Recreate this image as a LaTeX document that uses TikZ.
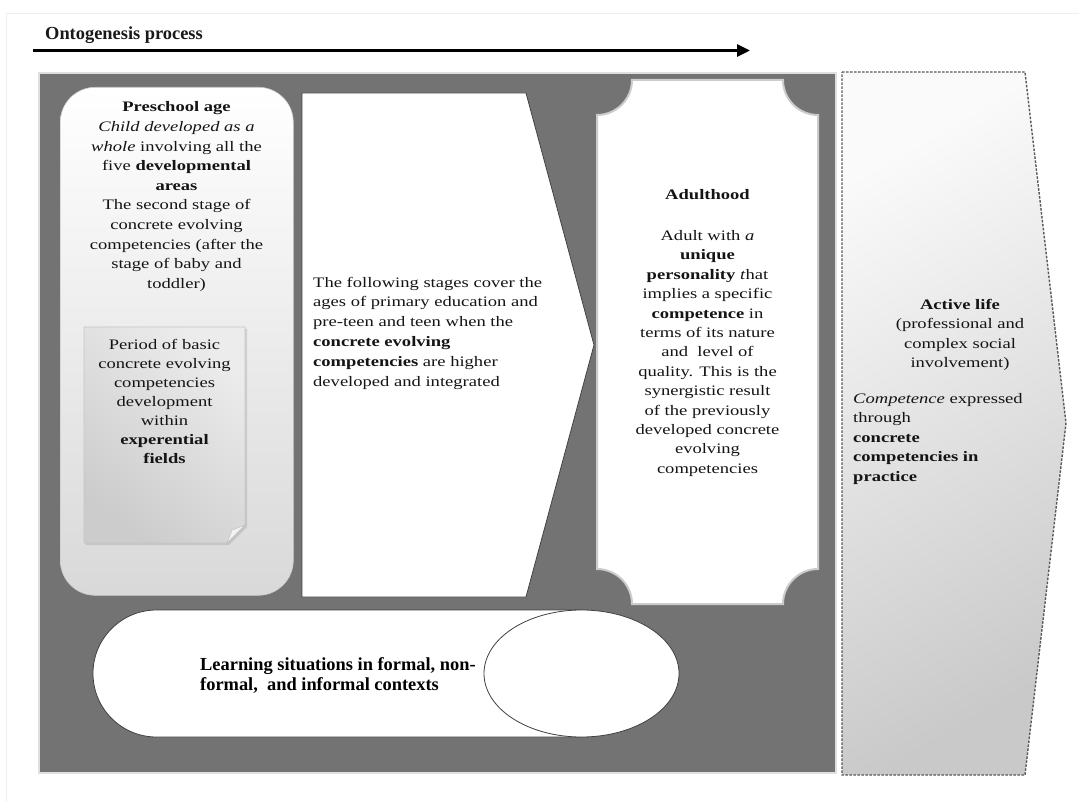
\documentclass[tikz,border=0pt]{standalone}
\usepackage{fontspec}
\setmainfont{Liberation Serif}
\newfontfamily\bodyfont[FakeStretch=1.28]{Liberation Serif}
\usetikzlibrary{arrows.meta,shapes.geometric,shadows}

\begin{document}
\begin{tikzpicture}[x=1pt,y=-1pt,
  body/.style={font=\bodyfont\fontsize{14.5}{19.6}\selectfont, text=black!92, inner sep=0pt, anchor=base},
  heading/.style={font=\bfseries\fontsize{18.4}{20}\selectfont, text=black!90, inner sep=0pt, anchor=base west},
  panelbox/.style={draw=gray!25, line width=2pt, fill=black!55, inner sep=0pt, anchor=north west},
  outline/.style={draw=black!75, line width=0.8pt, fill=white},
]
% page
\useasboundingbox (0,0) rectangle (1079,802);
\fill[white] (0,0) rectangle (1079,802);
\draw[gray!12, line width=1pt] (6,802) -- (6,14) -- (1079,14);

% time axis
\coordinate (pstart) at (33,50.5);
\coordinate (pend) at (750,50.5);
\draw[line width=3pt, -{Triangle[length=13pt,width=12pt]}] (pstart) -- (pend);
\node[heading] (proc) at (45,40) {Ontogenesis process};

% dark panel holding the stages
\node[panelbox, minimum width=797pt, minimum height=700pt] (panel) at (38,72) {};

% preschool stage (multi-line texts are placed by the baseline of their last line)
\node[rounded corners=35pt, top color=white, bottom color=gray!30, draw=gray!40,
      line width=0.6pt, minimum width=233pt, minimum height=508pt, inner sep=0pt,
      anchor=north west] (pre) at (60,87) {};
\node[body, align=center] (pretext) at (176.5,288.4) {%
  \textbf{Preschool age}\\
  \textit{Child developed as a}\\
  \textit{whole} involving all the\\
  five \textbf{developmental}\\
  \textbf{areas}\\
  The second stage of\\
  concrete evolving\\
  competencies (after the\\
  stage of baby and\\
  toddler)};

% note sheet with folded corner
\path[draw=gray!45, line width=0.6pt, top color=gray!15, bottom color=gray!40, shading angle=-40,
      drop shadow={opacity=0.25, shadow xshift=2pt, shadow yshift=-2pt}]
  (84,327) -- (245,327) -- (245,525) -- (227,543) -- (84,543) -- cycle;
\path[fill=gray!10, draw=gray!50, line width=0.5pt] (245,525) -- (227,543) -- (232,530) -- cycle;
\node[body, align=center, font=\bodyfont\fontsize{14.5}{19}\selectfont] (notetext) at (164.5,463) {%
  Period of basic\\
  concrete evolving\\
  competencies\\
  development\\
  within\\
  \textbf{experential}\\
  \textbf{fields}};

% school-age stages (arrow block)
\path[outline] (302,93) -- (526,93) -- (594,345) -- (526,597) -- (302,597) -- cycle;
\node[body, align=left, anchor=base west, font=\bodyfont\fontsize{14.5}{19.8}\selectfont] (schooltext) at (313,386) {%
  The following stages cover the\\
  ages of primary education and\\
  pre-teen and teen when the\\
  \textbf{concrete evolving}\\
  \textbf{competencies} are higher\\
  developed and integrated};

% adulthood frame with concave corners
\path[fill=white, draw=gray!40, line width=2pt]
  (632,80) -- (783,80) .. controls (783,99.3) and (798.7,115) .. (818,115)
  -- (818,569) .. controls (798.7,569) and (783,584.7) .. (783,604)
  -- (632,604) .. controls (632,584.7) and (616.3,569) .. (597,569)
  -- (597,115) .. controls (616.3,115) and (632,99.3) .. (632,80) -- cycle;
\node[body, align=center, font=\bodyfont\fontsize{14.5}{19.4}\selectfont] (adulttext) at (707.5,473.2) {%
  \textbf{Adulthood}\\[22pt]
  Adult with \textit{a}\\
  \textbf{unique}\\
  \textbf{personality} \textit{t}hat\\
  implies a specific\\
  \textbf{competence} in\\
  terms of its nature\\
  and\ \ level of\\
  quality. This is the\\
  synergistic result\\
  of the previously\\
  developed concrete\\
  evolving\\
  competencies};

% learning situations
\path[fill=white, draw=black!75, line width=0.8pt, rounded corners=63.5pt]
  (581.5,610) -- (93,610) -- (93,737) -- (581.5,737);
\node[ellipse, outline, minimum width=195pt, minimum height=127pt, inner sep=0pt] (circ) at (581.5,673.5) {};
\node[heading, align=left, text=black] (learntext) at (200,690) {%
  Learning situations in formal, non-\\
  formal,\ \ and informal contexts};

% active life
\path[draw=black!65, line width=1.4pt, dash pattern=on 2.5pt off 1.5pt,
      top color=gray!4, bottom color=gray!42, shading angle=30]
  (842,72) -- (1025,72) -- (1066,423) -- (1025,775) -- (842,775) -- cycle;
\node[body, align=center] (activetext) at (960,367.8) {%
  \textbf{Active life}\\
  (professional and\\
  complex social\\
  involvement)};
\node[body, align=left, anchor=base west] (competencetext) at (853,481.4) {%
  \textit{Competence} expressed\\
  through\\
  \textbf{concrete}\\
  \textbf{competencies in}\\
  \textbf{practice}};
\end{tikzpicture}
\end{document}
